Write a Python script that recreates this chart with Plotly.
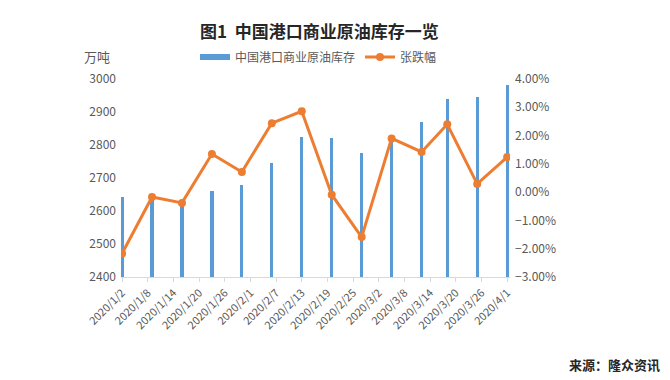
import plotly.graph_objects as go

dates = ["2020-01-02", "2020-01-09", "2020-01-16", "2020-01-23", "2020-01-30",
         "2020-02-06", "2020-02-13", "2020-02-20", "2020-02-27", "2020-03-05",
         "2020-03-12", "2020-03-18", "2020-03-25", "2020-04-01"]
inventory = [2642, 2637, 2627, 2661, 2679, 2746, 2824, 2821, 2776, 2829,
             2869, 2939, 2945, 2983]
change_pct = [-2.17, -0.17, -0.38, 1.35, 0.71, 2.44, 2.86, -0.09, -1.59, 1.90,
              1.42, 2.40, 0.29, 1.24]
tick_dates = ["2020-01-02", "2020-01-08", "2020-01-14", "2020-01-20", "2020-01-26",
              "2020-02-01", "2020-02-07", "2020-02-13", "2020-02-19", "2020-02-25",
              "2020-03-02", "2020-03-08", "2020-03-14", "2020-03-20", "2020-03-26",
              "2020-04-01"]
tick_labels = ["2020/1/2", "2020/1/8", "2020/1/14", "2020/1/20", "2020/1/26",
               "2020/2/1", "2020/2/7", "2020/2/13", "2020/2/19", "2020/2/25",
               "2020/3/2", "2020/3/8", "2020/3/14", "2020/3/20", "2020/3/26",
               "2020/4/1"]

FONT = "Noto Sans CJK SC"
GRAY = "#595959"
DAY_MS = 86400000
BLUE = "#5B9BD5"
ORANGE = "#ED7D31"

L, R, T, B = 121, 160, 79, 103
W, H = 670, 380
PW, PH = W - L - R, H - T - B


def px(x):
    return (x - L) / PW


def py(y):
    return (H - B - y) / PH


fig = go.Figure()
fig.add_trace(go.Bar(
    x=dates, y=inventory, name="中国港口商业原油库存",
    marker=dict(color=BLUE, line=dict(width=0)),
    width=0.75 * DAY_MS, yaxis="y", showlegend=False,
))
# legend proxy for the bar series (wide flat swatch as in the reference)
fig.add_trace(go.Scatter(
    x=[None], y=[None], name="中国港口商业原油库存", mode="lines",
    line=dict(color=BLUE, width=6), yaxis="y", legendrank=1,
))
fig.add_trace(go.Scatter(
    x=dates, y=[v / 100 for v in change_pct], name="张跌幅",
    mode="lines+markers",
    line=dict(color=ORANGE, width=3),
    marker=dict(color=ORANGE, size=8),
    yaxis="y2", legendrank=2,
))

fig.update_layout(
    width=W, height=H,
    margin=dict(l=L, r=R, t=T, b=B, autoexpand=False),
    paper_bgcolor="white", plot_bgcolor="white",
    font=dict(family=FONT, color=GRAY, size=11),
    showlegend=True,
    legend=dict(orientation="h", x=px(195), xanchor="left", y=py(57), yanchor="middle",
                font=dict(size=12, color=GRAY), bgcolor="rgba(0,0,0,0)",
                traceorder="normal", itemwidth=30, tracegroupgap=0),
    bargap=0,
    xaxis=dict(
        type="date",
        range=["2020-01-01 18:00", "2020-04-01 16:00"],
        tickmode="array", tickvals=tick_dates, ticktext=tick_labels,
        tickangle=-45, tickfont=dict(size=11, color=GRAY),
        showgrid=False, showline=True, linecolor="#D9D9D9", linewidth=1,
        ticks="outside", ticklen=4, tickcolor="#D9D9D9",
        zeroline=False,
    ),
    yaxis=dict(
        range=[2400, 3000], tickvals=[2400, 2500, 2600, 2700, 2800, 2900, 3000],
        showgrid=False, zeroline=False, showline=False,
        tickfont=dict(size=12, color=GRAY), ticks="", ticklabelstandoff=4,
    ),
    yaxis2=dict(
        overlaying="y", side="right",
        range=[-0.03, 0.04], tickvals=[-0.03, -0.02, -0.01, 0, 0.01, 0.02, 0.03, 0.04],
        tickformat=".2%",
        showgrid=False, zeroline=False, showline=False,
        tickfont=dict(size=12, color=GRAY), ticks="", ticklabelstandoff=4,
    ),
    annotations=[
        dict(text="<b>图1  中国港口商业原油库存一览</b>", xref="paper", yref="paper",
             x=px(319), y=py(30), xanchor="center", yanchor="middle",
             showarrow=False, font=dict(size=17, color="#262626", family=FONT)),
        dict(text="万吨", xref="paper", yref="paper", x=px(97), y=py(57),
             xanchor="center", yanchor="middle", showarrow=False,
             font=dict(size=13, color=GRAY)),
        dict(text="<b>来源：隆众资讯</b>", xref="paper", yref="paper", x=px(662), y=py(364),
             xanchor="right", yanchor="middle", showarrow=False,
             font=dict(size=13, color="#262626")),
    ],
)

fig.write_html("out.html", config={"displayModeBar": False},
               post_script="document.body.style.margin='0px';document.body.style.overflow='hidden';")
